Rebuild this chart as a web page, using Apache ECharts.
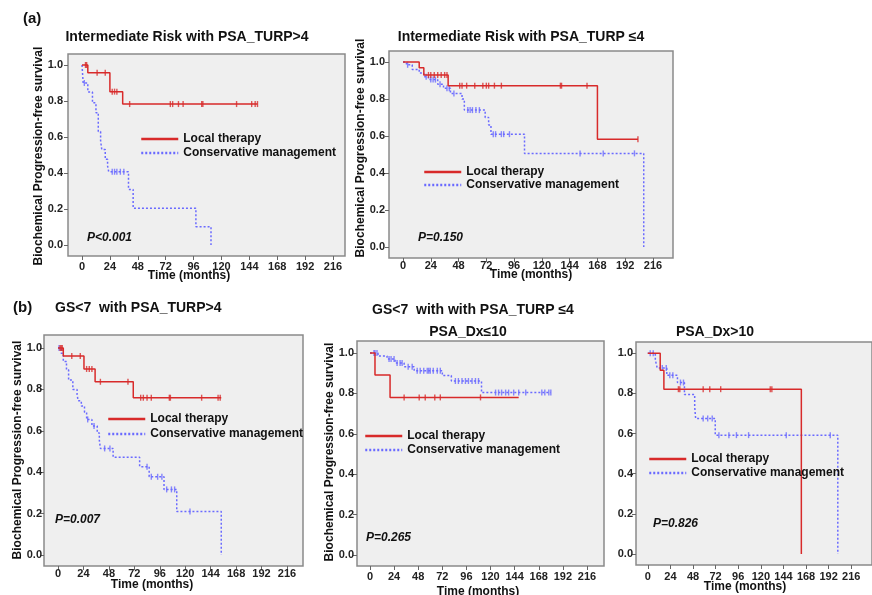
<!DOCTYPE html>
<html>
<head>
<meta charset="utf-8">
<script src="https://cdn.jsdelivr.net/npm/echarts@6/dist/echarts.min.js"></script>
<style>
  html, body { margin: 0; padding: 0; background: #fff; }
  #chart { width: 872px; height: 595px; }
</style>
</head>
<body>
<div id="chart"></div>
<script>
const xTicks = [0, 24, 48, 72, 96, 120, 144, 168, 192, 216];
const yTicks = [0, 0.2, 0.4, 0.6, 0.8, 1.0];
const groupNames = ['Local therapy', 'Conservative management'];
const panelTitles = [
  'Intermediate Risk with PSA_TURP>4',
  'Intermediate Risk with PSA_TURP \u22644',
  'GS<7  with PSA_TURP>4',
  'PSA_Dx\u226410',
  'PSA_Dx>10'
];
const pValues = ['P<0.001', 'P=0.150', 'P=0.007', 'P=0.265', 'P=0.826'];

// (a) left: intermediate risk, PSA_TURP > 4
const a1LocalSteps = [[0, 1], [5, 0.957], [24, 0.852], [35, 0.783]];
const a1LocalEnd = 151;
const a1LocalCensored = [3, 4, 13, 20, 26, 28, 30, 41, 76, 78, 83, 87, 103, 104, 133, 146, 149, 151];
const a1ConsSteps = [[0, 1], [1, 0.9], [5, 0.85], [9, 0.79], [12, 0.735], [14, 0.63], [16, 0.58], [17, 0.53],
  [20, 0.476], [22, 0.44], [23, 0.407], [40, 0.309], [44, 0.204], [98, 0.102], [111, 0]];
const a1ConsEnd = 111;
const a1ConsCensored = [2, 26, 28, 30, 33, 36];

// (a) right: intermediate risk, PSA_TURP <= 4
const a2LocalSteps = [[0, 1], [14, 0.969], [18, 0.93], [39, 0.872], [168, 0.582]];
const a2LocalEnd = 203;
const a2LocalCensored = [22, 24, 27, 30, 33, 36, 38, 49, 51, 55, 62, 69, 72, 74, 79, 85, 136, 137, 159, 203];
const a2ConsSteps = [[0, 1], [3, 0.985], [8, 0.96], [14, 0.94], [18, 0.92], [22, 0.905], [30, 0.88], [35, 0.858],
  [41, 0.83], [51, 0.8], [53, 0.74], [71, 0.7], [74, 0.66], [76, 0.61], [105, 0.506], [208, 0]];
const a2ConsEnd = 208;
const a2ConsCensored = [4, 20, 24, 26, 28, 32, 38, 40, 44, 56, 58, 60, 63, 66, 78, 80, 85, 87, 92, 153, 173, 200];

// (b) left: GS<7, PSA_TURP > 4
const b1LocalSteps = [[0, 1], [5, 0.961], [24.5, 0.899], [35, 0.837], [71, 0.76]];
const b1LocalEnd = 154;
const b1LocalCensored = [2, 3, 4, 13, 21, 27, 29.5, 32, 40, 66, 78, 80.5, 84, 88, 105, 106, 135.5, 151, 153];
const b1ConsSteps = [[0, 1], [3, 0.975], [5, 0.935], [8, 0.895], [10, 0.845], [14, 0.8], [18, 0.775], [19, 0.745],
  [22, 0.72], [25, 0.69], [27, 0.655], [32, 0.623], [37, 0.59], [39, 0.555], [40, 0.515], [52, 0.472],
  [77, 0.427], [86, 0.378], [100, 0.317], [112, 0.21], [154, 0]];
const b1ConsEnd = 154;
const b1ConsCensored = [1, 28, 34, 44, 49, 84, 88, 94, 98, 102.5, 107, 110, 124.5];

// (b) middle: GS<7, PSA_TURP <= 4, PSA_Dx <= 10
const b2LocalSteps = [[0, 1], [5, 0.891], [20, 0.78]];
const b2LocalEnd = 148;
const b2LocalCensored = [34, 49, 55, 64.5, 70, 110];
const b2ConsSteps = [[0, 1], [8, 0.985], [17, 0.97], [25, 0.95], [34, 0.932], [44, 0.912], [72, 0.888],
  [81, 0.861], [111, 0.804]];
const b2ConsEnd = 180;
const b2ConsCensored = [4, 5, 7, 19, 21, 24, 27, 30, 32, 38, 42, 47, 50, 53.5, 57, 58.5, 60, 63, 67, 70,
  85, 88, 91.6, 95, 98, 101.6, 105, 108, 125, 128, 131, 135, 138, 143, 148, 155, 171, 174, 178, 180];

// (b) right: GS<7, PSA_TURP <= 4, PSA_Dx > 10
const b3LocalSteps = [[0, 1], [13.2, 0.915], [17.1, 0.821], [163, 0]];
const b3LocalEnd = 163;
const b3LocalCensored = [32.5, 34, 58.8, 65.8, 77.4, 130, 131.7];
const b3ConsSteps = [[0, 1], [8, 0.967], [10, 0.927], [20.2, 0.89], [31.5, 0.854], [38.9, 0.794], [49.8, 0.733],
  [50.8, 0.675], [71.6, 0.592], [201.7, 0]];
const b3ConsEnd = 201.7;
const b3ConsCensored = [2.6, 5.8, 15.4, 19.6, 23.4, 26.6, 34.7, 37.9, 58.8, 63.6, 68.4, 75.5, 86.1, 94.1, 107, 147, 193.7];

const panelData = [
  { local: [a1LocalSteps, a1LocalEnd, a1LocalCensored], cons: [a1ConsSteps, a1ConsEnd, a1ConsCensored] },
  { local: [a2LocalSteps, a2LocalEnd, a2LocalCensored], cons: [a2ConsSteps, a2ConsEnd, a2ConsCensored] },
  { local: [b1LocalSteps, b1LocalEnd, b1LocalCensored], cons: [b1ConsSteps, b1ConsEnd, b1ConsCensored] },
  { local: [b2LocalSteps, b2LocalEnd, b2LocalCensored], cons: [b2ConsSteps, b2ConsEnd, b2ConsCensored] },
  { local: [b3LocalSteps, b3LocalEnd, b3LocalCensored], cons: [b3ConsSteps, b3ConsEnd, b3ConsCensored] }
];

// layout of each panel (pixels)
const layouts = [
  { grid: [68, 54, 277, 202], x: [-12.05, 226.3], y: [-0.061, 1.061], xm: 5, ym: 5,
    legend: [135, 128, 2], p: [87, 238], xName: [189, 276], yName: [39, 156] },
  { grid: [389, 51, 284, 207], x: [-12.1, 233.3], y: [-0.0595, 1.0595], xm: 2, ym: 4,
    legend: [418, 161, 1], p: [418, 238], xName: [531, 275], yName: [361, 148] },
  { grid: [44, 335, 259, 231], x: [-13.2, 231.1], y: [-0.053, 1.063], xm: 2, ym: 2,
    legend: [102, 408, 3], p: [55, 520], xName: [152, 585], yName: [18, 450] },
  { grid: [357, 341, 247, 225], x: [-12.9, 232.9], y: [-0.054, 1.059], xm: 5, ym: 3,
    legend: [359, 425, 2], p: [366, 538], xName: [478, 592], yName: [330, 452] },
  { grid: [636, 342, 260, 223], x: [-12.5, 238], y: [-0.055, 1.056], xm: 6, ym: 3,
    legend: [643, 448, 2], p: [653, 524], xName: [745, 587], yName: null }
];

const RED = '#d82a2a';
const BLUE = '#6a6aff';
const FONT = '"Liberation Sans", Arial, sans-serif';

function survivalAt(steps, t) {
  let v = steps[0][1];
  for (const [x, y] of steps) if (x <= t) v = y;
  return v;
}

const grids = [], xAxes = [], yAxes = [], series = [], legends = [];
const graphics = [];

function txt(text, x, y, opts) {
  const o = Object.assign({ align: 'left', size: 12, weight: 'bold', style: 'normal', rot: 0 }, opts || {});
  graphics.push({
    type: 'text', x: x, y: y, rotation: o.rot, silent: true,
    style: {
      text: text, fill: '#111',
      font: `${o.style} ${o.weight} ${o.size}px ${FONT}`,
      textAlign: o.align, align: o.align,
      textVerticalAlign: 'middle', verticalAlign: 'middle'
    }
  });
}

layouts.forEach((L, i) => {
  const [gl, gt, gw, gh] = L.grid;
  grids.push({ left: gl, top: gt, width: gw, height: gh, show: true,
    backgroundColor: '#efefef', borderColor: '#8a8a8a', borderWidth: 1.5 });
  xAxes.push({
    type: 'value', gridIndex: i, min: L.x[0], max: L.x[1],
    axisLine: { show: false, onZero: false },
    splitLine: { show: false },
    axisTick: { show: true, length: 4, customValues: xTicks, lineStyle: { color: '#666' } },
    axisLabel: { customValues: xTicks, margin: L.xm, color: '#222', fontSize: 11,
      fontWeight: 'bold', fontFamily: FONT }
  });
  yAxes.push({
    type: 'value', gridIndex: i, min: L.y[0], max: L.y[1],
    axisLine: { show: false, onZero: false },
    splitLine: { show: false },
    axisTick: { show: true, length: 4, customValues: yTicks, lineStyle: { color: '#666' } },
    axisLabel: { customValues: yTicks, margin: L.ym, color: '#222', fontSize: 11,
      fontWeight: 'bold', fontFamily: FONT, formatter: v => v.toFixed(1) }
  });

  const d = panelData[i];
  [['local', groupNames[0], RED, 'solid'], ['cons', groupNames[1], BLUE, [2, 2]]].forEach(([key, name, color, type]) => {
    const [steps, end, censored] = d[key];
    const last = steps[steps.length - 1][1];
    series.push({
      name: name, type: 'line', step: 'end', xAxisIndex: i, yAxisIndex: i,
      symbol: 'none', data: steps.concat([[end, last]]),
      lineStyle: { color: color, width: 1.5, type: type }, itemStyle: { color: color },
      z: key === 'local' ? 3 : 2
    });
    series.push({
      name: name + ' (censored)', type: 'scatter', xAxisIndex: i, yAxisIndex: i,
      symbol: 'rect', symbolSize: [1.4, 6],
      data: censored.map(t => [t, survivalAt(steps, t)]),
      itemStyle: { color: color }, z: key === 'local' ? 3 : 2
    });
  });

  legends.push({
    data: groupNames, orient: 'vertical', left: L.legend[0], top: L.legend[1],
    itemWidth: 37, itemHeight: 14, itemGap: L.legend[2], selectedMode: false,
    itemStyle: { opacity: 0 }, lineStyle: { width: 2.5 },
    textStyle: { fontSize: 12, fontWeight: 'bold', color: '#111', fontFamily: FONT }
  });

  txt(pValues[i], L.p[0], L.p[1], { style: 'italic' });
  txt('Time (months)', L.xName[0], L.xName[1], { align: 'center' });
  if (L.yName) txt('Biochemical Progression-free survival', L.yName[0], L.yName[1],
    { align: 'center', rot: Math.PI / 2 });
});

// panel labels and titles
txt('(a)', 23, 19, { size: 15 });
txt('(b)', 13, 308, { size: 15 });
txt(panelTitles[0], 187, 37, { align: 'center', size: 14 });
txt(panelTitles[1], 521, 37, { align: 'center', size: 14 });
txt(panelTitles[2], 55, 308, { size: 14 });
txt('GS<7  with with PSA_TURP \u22644', 473, 310, { align: 'center', size: 14 });
txt(panelTitles[3], 468, 332, { align: 'center', size: 14 });
txt(panelTitles[4], 715, 332, { align: 'center', size: 14 });

const chart = echarts.init(document.getElementById('chart'));
chart.setOption({
  animation: false,
  backgroundColor: '#fff',
  grid: grids,
  xAxis: xAxes,
  yAxis: yAxes,
  legend: legends,
  series: series,
  graphic: graphics
});
</script>
</body>
</html>
